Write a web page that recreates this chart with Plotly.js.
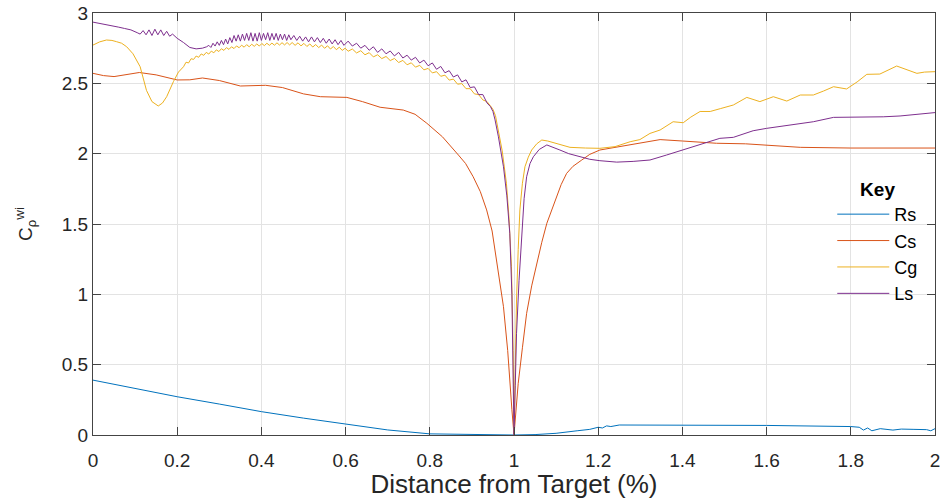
<!DOCTYPE html>
<html>
<head>
<meta charset="utf-8">
<script src="https://cdn.plot.ly/plotly-3.0.1.min.js"></script>
<style>html,body{margin:0;padding:0;background:#fff;}#chart{width:945px;height:499px;}</style>
</head>
<body>
<div id="chart"></div>
<script>
// ---- data ----
const seriesNames = ["Rs", "Cs", "Cg", "Ls"];
const seriesColors = ["#0072BD", "#D95319", "#EDB120", "#7E2F8E"];

const rsX = [0,0.1,0.2,0.3,0.4,0.5,0.6,0.7,0.8,0.9,1.0,1.05,1.1,1.15,1.18,1.2,1.21,1.22,1.23,1.25,1.4,1.6,1.8,1.82,1.83,1.84,1.85,1.87,1.9,1.92,1.95,1.98,1.99,2.0];
const rsY = [0.39,0.33,0.272,0.22,0.166,0.12,0.076,0.036,0.008,0.002,0.0,0.003,0.012,0.03,0.04,0.055,0.05,0.065,0.06,0.071,0.071,0.068,0.06,0.055,0.035,0.05,0.03,0.045,0.035,0.042,0.04,0.038,0.03,0.045];

const csX = [0,0.025,0.05,0.08,0.11,0.15,0.2,0.23,0.26,0.3,0.35,0.41,0.45,0.5,0.54,0.603,0.64,0.682,0.737,0.765,0.793,0.83,0.856,0.868,0.885,0.903,0.92,0.935,0.948,0.959,0.975,0.985,0.99,0.995,1.0,1.005,1.01,1.02,1.03,1.042,1.054,1.066,1.078,1.09,1.101,1.112,1.125,1.14,1.161,1.18,1.204,1.25,1.3,1.347,1.4,1.481,1.55,1.6,1.68,1.8,1.9,2.0];
const csY = [2.571,2.555,2.548,2.56,2.577,2.56,2.524,2.525,2.538,2.52,2.481,2.486,2.47,2.425,2.405,2.40,2.37,2.33,2.31,2.28,2.216,2.12,2.026,1.99,1.93,1.836,1.73,1.60,1.45,1.244,0.912,0.6,0.367,0.18,0.0,0.18,0.367,0.62,0.865,1.06,1.22,1.37,1.505,1.60,1.694,1.78,1.86,1.91,1.955,1.995,2.026,2.05,2.075,2.10,2.09,2.074,2.07,2.06,2.045,2.04,2.04,2.04];

const cgX = [0,0.016,0.032,0.045,0.056,0.068,0.08,0.095,0.112,0.127,0.14,0.155,0.165,0.175,0.191,0.203,0.215,
  0.221,0.227,0.233,0.239,0.245,0.251,0.257,0.263,0.269,0.275,0.281,0.287,0.293,0.299,0.305,0.311,0.317,0.323,0.329,0.335,0.341,0.347,0.353,0.359,0.365,0.371,0.377,0.383,0.389,0.395,0.401,0.407,0.413,0.419,0.425,0.431,0.437,0.443,0.449,0.455,0.461,0.467,0.473,
  0.480,0.487,0.494,0.501,0.508,0.515,0.522,0.529,0.536,0.543,0.550,0.557,0.564,0.571,0.578,0.585,0.592,0.599,
  0.606,0.616,0.626,0.636,0.646,0.656,0.666,0.676,0.686,0.696,0.706,0.716,0.726,0.736,0.746,0.756,0.766,0.776,0.786,0.796,0.806,0.816,0.826,0.836,0.846,0.856,0.866,0.876,0.886,0.896,0.906,0.916,0.926,0.936,0.944,0.950,0.956,0.964,0.972,0.982,0.988,0.994,0.998,1.0,
  1.003,1.006,1.010,1.014,1.020,1.026,1.034,1.042,1.054,1.066,1.08,1.093,1.113,1.133,1.17,1.204,1.24,1.276,1.299,1.323,1.347,1.365,1.378,1.402,1.42,1.442,1.466,1.49,1.521,1.553,1.584,1.616,1.648,1.68,1.711,1.735,1.759,1.79,1.815,1.838,1.869,1.909,1.935,1.957,1.975,2.0];
const cgY = [2.772,2.795,2.808,2.805,2.796,2.785,2.76,2.71,2.618,2.45,2.37,2.339,2.36,2.405,2.512,2.58,2.618,
  2.650,2.645,2.675,2.670,2.694,2.685,2.709,2.699,2.720,2.708,2.729,2.717,2.738,2.726,2.746,2.734,2.754,2.741,2.760,2.747,2.766,2.753,2.771,2.757,2.775,2.760,2.778,2.763,2.780,2.765,2.783,2.768,2.785,2.770,2.786,2.771,2.788,2.772,2.789,2.773,2.790,2.773,2.790,
  2.770,2.788,2.766,2.784,2.762,2.780,2.758,2.776,2.754,2.772,2.749,2.767,2.744,2.762,2.739,2.757,2.734,2.750,
  2.728,2.744,2.716,2.732,2.703,2.718,2.688,2.703,2.676,2.691,2.662,2.677,2.648,2.663,2.632,2.646,2.615,2.628,2.596,2.606,2.574,2.583,2.550,2.558,2.523,2.530,2.494,2.498,2.462,2.462,2.425,2.420,2.382,2.370,2.340,2.315,2.27,2.15,2.02,1.79,1.55,1.196,0.6,0.0,
  0.5,0.96,1.32,1.60,1.79,1.907,1.975,2.026,2.07,2.097,2.09,2.078,2.06,2.045,2.04,2.038,2.05,2.085,2.10,2.144,2.168,2.20,2.227,2.22,2.26,2.30,2.30,2.32,2.346,2.40,2.37,2.405,2.374,2.417,2.417,2.445,2.476,2.46,2.51,2.564,2.566,2.623,2.595,2.571,2.58,2.583];

const lsX = [0,0.02,0.04,0.06,0.075,0.09,0.105,
  0.112,0.119,0.126,0.133,0.140,0.147,0.154,0.161,0.168,0.175,0.182,0.189,
  0.20,0.215,0.23,0.245,0.26,0.27,
  0.275,0.280,0.285,0.290,0.295,0.300,0.305,0.310,0.315,0.320,0.325,0.330,0.335,0.340,0.345,0.350,0.355,0.360,0.365,0.370,0.375,0.380,0.385,0.390,0.395,0.400,0.405,0.410,0.415,0.420,0.425,0.430,0.435,0.440,0.445,0.450,0.455,0.460,0.465,0.470,
  0.477,0.484,0.491,0.498,0.505,0.512,0.519,0.526,0.533,0.540,0.547,0.554,0.561,0.568,0.575,0.582,0.589,0.596,
  0.606,0.616,0.626,0.636,0.646,0.656,0.666,0.676,0.686,0.696,0.706,0.716,0.726,0.736,0.746,0.756,0.766,0.776,0.786,0.796,0.806,0.816,0.826,0.836,0.846,0.856,0.866,0.876,0.886,0.896,0.906,0.916,0.926,0.936,0.944,0.950,0.955,0.963,0.975,0.983,0.990,0.995,0.998,1.000,
  1.003,1.006,1.012,1.018,1.024,1.030,1.038,1.046,1.06,1.078,1.09,1.109,1.13,1.157,1.18,1.204,1.244,1.283,1.323,1.362,1.402,1.442,1.489,1.521,1.568,1.6,1.64,1.711,1.759,1.8,1.838,1.877,1.917,1.96,2.0];
const lsY = [2.935,2.925,2.915,2.90,2.89,2.88,2.86,
  2.85,2.875,2.845,2.88,2.84,2.885,2.845,2.88,2.84,2.87,2.835,2.85,
  2.82,2.79,2.755,2.745,2.75,2.76,
  2.77,2.755,2.785,2.765,2.795,2.77,2.805,2.775,2.815,2.78,2.825,2.79,2.84,2.80,2.845,2.80,2.85,2.805,2.855,2.805,2.86,2.80,2.855,2.80,2.86,2.805,2.855,2.81,2.86,2.805,2.855,2.81,2.855,2.805,2.85,2.81,2.85,2.805,2.845,2.81,
  2.84,2.805,2.835,2.80,2.83,2.795,2.83,2.795,2.825,2.79,2.82,2.785,2.815,2.78,2.81,2.775,2.805,2.77,
  2.80,2.765,2.785,2.75,2.77,2.735,2.76,2.72,2.745,2.71,2.73,2.695,2.72,2.68,2.70,2.665,2.685,2.645,2.665,2.625,2.645,2.60,2.62,2.575,2.59,2.545,2.56,2.51,2.525,2.47,2.475,2.42,2.42,2.36,2.335,2.30,2.24,2.12,1.907,1.70,1.434,1.0,0.486,0.0,
  0.35,0.72,1.10,1.434,1.68,1.836,1.93,1.978,2.03,2.062,2.05,2.026,2.0,1.978,1.96,1.95,1.94,1.945,1.955,1.99,2.026,2.062,2.109,2.116,2.163,2.18,2.197,2.227,2.258,2.258,2.258,2.262,2.268,2.28,2.292];

const xTickVals = [0,0.2,0.4,0.6,0.8,1,1.2,1.4,1.6,1.8,2];
const xTickText = ["0","0.2","0.4","0.6","0.8","1","1.2","1.4","1.6","1.8","2"];
const yTickVals = [0,0.5,1,1.5,2,2.5,3];
const yTickText = ["0","0.5","1","1.5","2","2.5","3"];

const xs = [rsX, csX, cgX, lsX];
const ys = [rsY, csY, cgY, lsY];

const traces = seriesNames.map((n, i) => ({
  x: xs[i], y: ys[i], name: n, type: "scatter", mode: "lines",
  line: {color: seriesColors[i], width: 1}
}));

const axisColor = "#262626";
const frameColor = "#444444";
const layout = {
  width: 945, height: 499,
  margin: {l: 93, r: 10, t: 13, b: 64},
  paper_bgcolor: "#ffffff", plot_bgcolor: "#ffffff",
  font: {family: "Liberation Sans, Arial, sans-serif", color: axisColor, size: 19},
  showlegend: true,
  legend: {
    x: 0.878, xanchor: "left", y: 0.625, yanchor: "top",
    bgcolor: "rgba(0,0,0,0)", borderwidth: 0,
    font: {size: 18, color: "#000"},
    title: {text: "<b>Key</b>", side: "top center", font: {size: 19, color: "#000"}},
    traceorder: "normal", itemwidth: 52
  },
  xaxis: {
    range: [0, 2], tickvals: xTickVals, ticktext: xTickText,
    ticks: "inside", ticklen: 8, tickcolor: frameColor, tickwidth: 1,
    showline: true, mirror: "ticks", linecolor: frameColor, linewidth: 1,
    showgrid: true, gridcolor: "#e3e3e3", gridwidth: 1, zeroline: false,
    tickfont: {size: 19}, ticklabelstandoff: 8,
    title: {text: "Distance from Target (%)", font: {size: 26, color: axisColor}, standoff: 6}
  },
  yaxis: {
    range: [0, 3], tickvals: yTickVals, ticktext: yTickText,
    ticks: "inside", ticklen: 8, tickcolor: frameColor, tickwidth: 1,
    showline: true, mirror: "ticks", linecolor: frameColor, linewidth: 1,
    showgrid: true, gridcolor: "#e3e3e3", gridwidth: 1, zeroline: false,
    tickfont: {size: 19}, ticklabelstandoff: 0,
    title: {text: "C<sub>ρ</sub><sup>wi</sup>", font: {size: 19, color: axisColor}, standoff: 24}
  }
};

Plotly.newPlot("chart", traces, layout, {staticPlot: true, displayModeBar: false});
</script>
</body>
</html>
